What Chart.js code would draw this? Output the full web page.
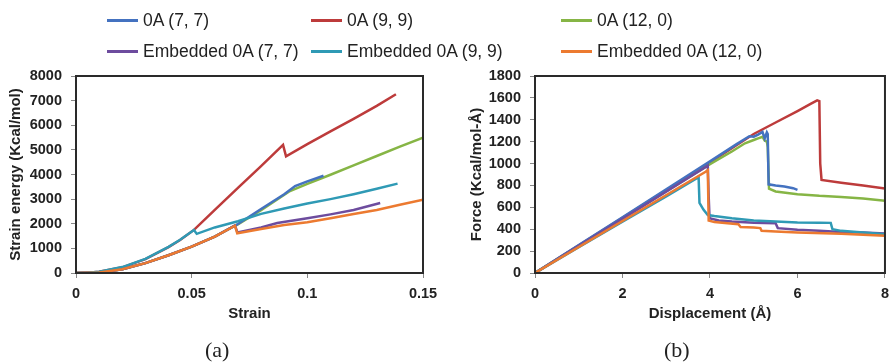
<!DOCTYPE html>
<html>
<head>
<meta charset="utf-8">
<script src="https://cdn.jsdelivr.net/npm/chart.js@4.4.0/dist/chart.umd.min.js"></script>
<style>
  body { margin: 0; background: #fff; }
  #wrap { position: relative; width: 896px; height: 364px; overflow: hidden; font-family: "Liberation Sans", Arial, sans-serif; }
  #wrap canvas { position: absolute; top: 0; }
  .leg { position: absolute; font-size: 17.5px; color: #222; white-space: nowrap; line-height: 20px; }
  .leg i { position: absolute; left: -36px; top: 9px; width: 31px; height: 3px; }
  .cap { position: absolute; top: 337px; font-family: "Liberation Serif", serif; font-size: 22px; color: #222; }
</style>
</head>
<body>
<div id="wrap">
  <canvas id="chartA" width="448" height="364" style="left:0"></canvas>
  <canvas id="chartB" width="448" height="364" style="left:448px"></canvas>
  <div class="cap" style="left:205px">(a)</div>
  <div class="cap" style="left:664px">(b)</div>
</div>
<script>
// series names + colours (legend order)
var seriesNames = ['0A (7, 7)', '0A (9, 9)', '0A (12, 0)', 'Embedded 0A (7, 7)', 'Embedded 0A (9, 9)', 'Embedded 0A (12, 0)'];
var seriesColors = ['#4472c0', '#bd3b3b', '#86b545', '#6d4c9e', '#2f9ab5', '#ec7a30'];
var drawOrder = [3, 5, 4, 2, 1, 0];

// (a) strain energy (Kcal/mol) vs strain
var energy77 = [[0,0],[0.01,20],[0.02,150],[0.03,400],[0.04,720],[0.05,1070],[0.06,1480],[0.0687,1920],[0.07,1990],[0.08,2600],[0.09,3200],[0.0947,3530],[0.1,3720],[0.107,3950]];
var energy99 = [[0,0],[0.005,10],[0.01,50],[0.02,230],[0.03,560],[0.04,1050],[0.045,1340],[0.051,1750],[0.06,2560],[0.07,3460],[0.08,4340],[0.0895,5200],[0.0908,4740],[0.1,5230],[0.11,5750],[0.12,6260],[0.13,6790],[0.1383,7260]];
var energy120 = [[0,0],[0.01,20],[0.02,150],[0.03,400],[0.04,720],[0.05,1070],[0.06,1480],[0.0687,1920],[0.07,1970],[0.08,2550],[0.0925,3330],[0.1,3620],[0.11,3990],[0.12,4370],[0.13,4750],[0.14,5130],[0.15,5500]];
var energyE77 = [[0,0],[0.01,20],[0.02,150],[0.03,400],[0.04,720],[0.05,1070],[0.06,1480],[0.0687,1930],[0.0698,1650],[0.08,1850],[0.087,2030],[0.1,2220],[0.11,2380],[0.12,2560],[0.1315,2840]];
var energyE99 = [[0,0],[0.005,10],[0.01,55],[0.02,240],[0.03,570],[0.04,1060],[0.045,1350],[0.051,1750],[0.0522,1590],[0.06,1850],[0.07,2100],[0.08,2400],[0.09,2620],[0.1,2820],[0.11,3000],[0.12,3200],[0.13,3420],[0.139,3630]];
var energyE120 = [[0,0],[0.01,20],[0.02,150],[0.03,400],[0.04,720],[0.05,1070],[0.06,1480],[0.0687,1920],[0.0697,1610],[0.08,1790],[0.09,1950],[0.1,2060],[0.11,2220],[0.12,2400],[0.13,2560],[0.14,2770],[0.15,2980]];

// (b) force (Kcal/mol-Å) vs displacement (Å)
var force77 = [[0,0],[1,255],[2,510],[3,765],[4,1020],[4.6,1175],[4.9,1250],[5.0,1245],[5.1,1265],[5.2,1290],[5.25,1230],[5.3,1285],[5.32,1270],[5.34,810],[5.5,800],[5.7,790],[5.9,775],[6.0,760]];
var force99 = [[0,0],[2,505],[4,1010],[5,1270],[5.5,1375],[6,1480],[6.3,1545],[6.45,1578],[6.5,1570],[6.52,1000],[6.55,850],[7,825],[7.5,800],[8,772]];
var force120 = [[0,0],[2,500],[4,995],[4.5,1110],[4.8,1185],[5.0,1215],[5.1,1230],[5.2,1245],[5.25,1210],[5.3,1200],[5.32,1150],[5.35,770],[5.5,745],[6,720],[6.5,705],[7,695],[7.5,680],[8,660]];
var forceE77 = [[0,0],[2,495],[3.95,980],[3.97,700],[3.99,500],[4.2,480],[4.5,470],[5,460],[5.5,455],[5.55,410],[6,395],[6.5,385],[7,375],[7.5,370],[8,360]];
var forceE99 = [[0,0],[1,235],[2,470],[3,700],[3.74,875],[3.76,640],[3.85,580],[3.95,530],[4.1,520],[4.5,500],[5,480],[5.5,470],[6,462],[6.5,460],[6.76,458],[6.8,400],[7,385],[7.5,370],[8,355]];
var forceE120 = [[0,0],[2,475],[3.9,925],[3.95,940],[3.97,480],[4.1,465],[4.4,455],[4.65,445],[4.7,420],[5.0,415],[5.15,410],[5.18,385],[5.5,380],[6,370],[7,358],[8,340]];

var seriesA = [energy77, energy99, energy120, energyE77, energyE99, energyE120];
var seriesB = [force77, force99, force120, forceE77, forceE99, forceE120];

var FONT = '"Liberation Sans", Arial, sans-serif';

// legend (shared by both panels)
var legX = [143, 347, 597];
var legY = [10, 41];
var wrap = document.getElementById('wrap');
seriesNames.forEach(function (name, i) {
  var d = document.createElement('div');
  d.className = 'leg';
  d.style.left = legX[i % 3] + 'px';
  d.style.top = legY[Math.floor(i / 3)] + 'px';
  d.innerHTML = '<i style="background:' + seriesColors[i] + '"></i>' + name;
  wrap.appendChild(d);
});

var frame = {
  id: 'frame',
  afterDraw: function (chart) {
    var a = chart.chartArea, ctx = chart.ctx;
    ctx.save();
    ctx.strokeStyle = '#2a2a2a';
    ctx.lineWidth = 2;
    ctx.strokeRect(a.left, a.top, a.right - a.left, a.bottom - a.top);
    ctx.restore();
  }
};

function makeChart(id, series, o) {
  var datasets = series.map(function (pts, i) {
    return {
      label: seriesNames[i],
      data: pts,
      borderColor: seriesColors[i],
      backgroundColor: seriesColors[i],
      borderWidth: 2.5,
      pointRadius: 0,
      fill: false,
      tension: 0,
      order: drawOrder[i]
    };
  });
  var tickFont = { family: FONT, size: 14.5, weight: 'bold' };
  var titleFont = { family: FONT, size: 15, weight: 'bold' };
  return new Chart(document.getElementById(id), {
    type: 'line',
    data: { datasets: datasets },
    options: {
      responsive: false,
      animation: false,
      layout: { padding: { top: 76, right: o.padRight, bottom: 41, left: 0 } },
      plugins: { legend: { display: false }, tooltip: { enabled: false } },
      scales: {
        x: {
          type: 'linear', min: o.xMin, max: o.xMax,
          grid: { drawOnChartArea: false, tickLength: 5, color: '#888' },
          border: { display: false },
          ticks: { stepSize: o.xStep, font: tickFont, color: '#222', padding: 7, maxRotation: 0,
                   callback: function (v) { return String(+v.toFixed(2)); } },
          title: { display: true, text: o.xTitle, font: titleFont, color: '#222', padding: 0 },
          afterFit: function (s) { s.height = 50; }
        },
        y: {
          type: 'linear', min: o.yMin, max: o.yMax,
          grid: { drawOnChartArea: false, tickLength: 5, color: '#888' },
          border: { display: false },
          ticks: { stepSize: o.yStep, font: tickFont, color: '#222', padding: 9,
                   callback: function (v) { return String(v); } },
          title: { display: true, text: o.yTitle, font: titleFont, color: '#222', padding: { top: o.yTitlePad, bottom: 0 } },
          afterFit: function (s) { s.width = o.yWidth; }
        }
      }
    },
    plugins: [frame]
  });
}

makeChart('chartA', seriesA, {
  xMin: 0, xMax: 0.15, xStep: 0.05, yMin: 0, yMax: 8000, yStep: 1000,
  xTitle: 'Strain', yTitle: 'Strain energy (Kcal/mol)',
  yWidth: 76, yTitlePad: 7, padRight: 25
});

makeChart('chartB', seriesB, {
  xMin: 0, xMax: 8, xStep: 2, yMin: 0, yMax: 1800, yStep: 200,
  xTitle: 'Displacement (Å)', yTitle: 'Force (Kcal/mol-Å)',
  yWidth: 87, yTitlePad: 20, padRight: 4
});
</script>
</body>
</html>
